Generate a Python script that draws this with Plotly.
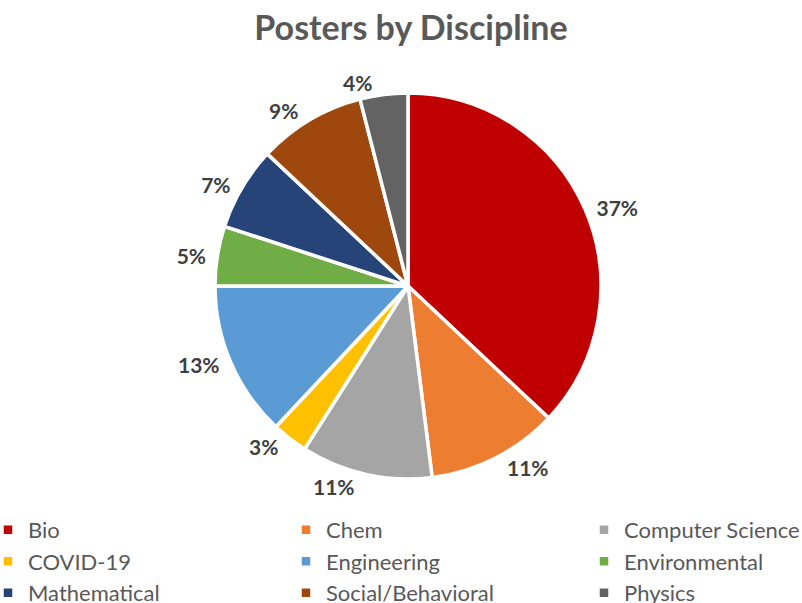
import plotly.graph_objects as go

# Share of posters per discipline (percent)
disciplines = ["Bio", "Chem", "Computer Science", "COVID-19", "Engineering",
               "Environmental", "Mathematical", "Social/Behavioral", "Physics"]
shares = [37, 11, 11, 3, 13, 5, 7, 9, 4]
colors = ["#C00000", "#ED7D31", "#A5A5A5", "#FFC000", "#5B9BD5",
          "#70AD47", "#264478", "#9E480E", "#636363"]

# The figure canvas is made wider than the visible 802 px window so the
# horizontal legend can hold three ~300 px columns per row; everything that
# is drawn lies in the left 802 px.
W, H = 900, 603

def px_x(px):
    return px / W

def px_y(px):
    return 1 - px / H

# a little side padding keeps the outside labels off the rim
label_tpl = "\u00a0%{percent:.0%}\u00a0"

cx, cy, r = 408, 286, 193

fig = go.Figure(
    go.Pie(
        labels=disciplines,
        values=shares,
        sort=False,
        direction="clockwise",
        rotation=0,
        marker=dict(colors=colors, line=dict(color="white", width=3.5)),
        texttemplate=label_tpl,
        textposition="outside",
        textfont=dict(family="Lato", size=21, color="#404040", weight="bold"),
        domain=dict(x=[px_x(cx - 300), px_x(cx + 300)],
                    y=[px_y(cy + r), px_y(cy - r)]),
        hoverinfo="label+percent",
    )
)

fig.update_layout(
    width=W,
    height=H,
    paper_bgcolor="white",
    plot_bgcolor="white",
    margin=dict(l=0, r=0, t=0, b=0, autoexpand=False),
    title=dict(
        text="<b>Posters by Discipline</b>",
        x=px_x(411),
        xanchor="center",
        y=px_y(28),
        yanchor="middle",
        font=dict(family="Lato", size=34, color="#595959"),
    ),
    legend=dict(
        orientation="h",
        x=px_x(-12),
        xanchor="left",
        y=-0.018,
        yanchor="bottom",
        entrywidth=253,
        entrywidthmode="pixels",
        traceorder="normal",
        font=dict(family="Lato", size=22, color="#595959"),
    ),
)

fig.write_html(
    "out.html",
    post_script="document.body.style.overflow='hidden';"
                "document.documentElement.style.overflow='hidden';",
)
